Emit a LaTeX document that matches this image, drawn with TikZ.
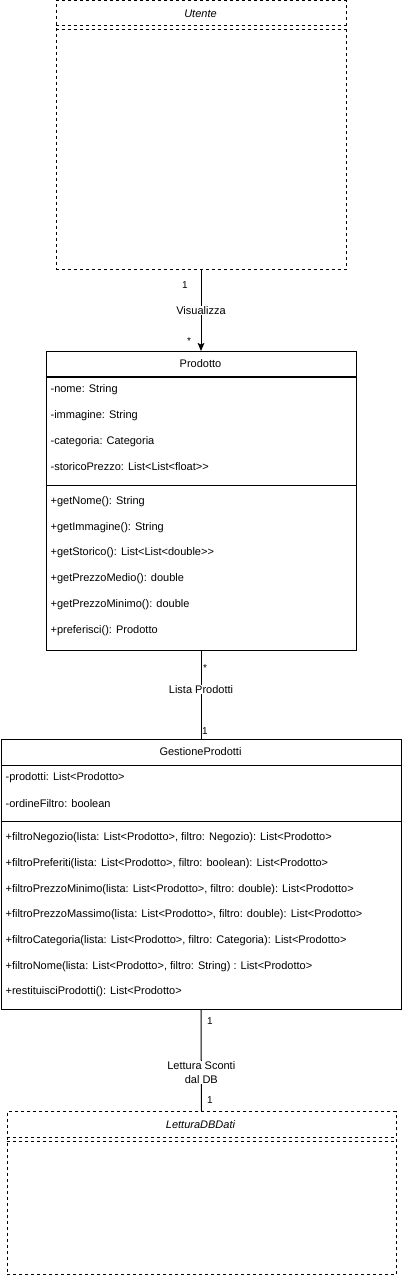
\documentclass[tikz,border=0pt]{standalone}
\usepackage{fontspec}
\setmainfont{Liberation Sans}[Ligatures=ResetAll]
\usetikzlibrary{arrows.meta}
\begin{document}
\begin{tikzpicture}[x=0.75pt,y=-0.75pt,
  every node/.style={font=\fontsize{8.25pt}{10pt}\selectfont, inner sep=1pt},
  classbox/.style={draw, line width=0.75pt, minimum width=#1, anchor=north west, inner sep=0pt, fill=none},
  dashbox/.style={draw, line width=0.75pt, dash pattern=on 2.25pt off 2.25pt, anchor=north west, inner sep=0pt},
  sepline/.style={line width=0.75pt},
  dsepline/.style={line width=0.75pt, dash pattern=on 2.25pt off 2.25pt},
  row/.style={anchor=west},
  hdr/.style={anchor=center},
  endlbl/.style={font=\fontsize{7.5pt}{9pt}\selectfont, anchor=center},
  edgelbl/.style={fill=white, anchor=center, align=center, inner sep=0.5pt},
  conn/.style={line width=0.75pt}
]
\useasboundingbox (0,0) rectangle (402,1276);

% ---------- Utente ----------
\node[dashbox, minimum width=217.5pt, minimum height=201.75pt] (utente) at (55.5,0.5) {};
\node[hdr, font=\fontsize{8.25pt}{10pt}\selectfont\itshape] (utenteT) at (200.5,14) {Utente};
\draw[dsepline] (55.5,26) -- (345.5,26);
\draw[dsepline] (55.5,30) -- (345.5,30);

% ---------- Prodotto ----------
\node[classbox=232.5pt, minimum height=224.25pt] (prodotto) at (45.5,351) {};
\node[hdr] (prodottoT) at (200.5,364) {Prodotto};
\draw[sepline] (45.5,377) -- (355.5,377);
\node[row] (p1) at (49,390) {-nome: String};
\node[row] (p2) at (49,416) {-immagine: String};
\node[row] (p3) at (49,442) {-categoria: Categoria};
\node[row] (p4) at (49,467) {-storicoPrezzo: List<List<float>{}>};
\draw[sepline] (45.5,485) -- (355.5,485);
\node[row] (p5) at (49,502) {+getNome(): String};
\node[row] (p6) at (49,528) {+getImmagine(): String};
\node[row] (p7) at (49,553) {+getStorico(): List<List<double>{}>};
\node[row] (p8) at (49,579) {+getPrezzoMedio(): double};
\node[row] (p9) at (49,605) {+getPrezzoMinimo(): double};
\node[row] (p10) at (49,631) {+preferisci(): Prodotto};

% ---------- GestioneProdotti ----------
\node[classbox=300pt, minimum height=202.5pt] (gestione) at (0.5,739) {};
\node[hdr] (gestioneT) at (200.5,752) {GestioneProdotti};
\draw[sepline] (0.5,765) -- (400.5,765);
\node[row] (g1) at (4,778) {-prodotti: List<Prodotto>};
\node[row] (g2) at (4,804) {-ordineFiltro: boolean};
\draw[sepline] (0.5,821) -- (400.5,821);
\node[row] (g3) at (4,838) {+filtroNegozio(lista: List<Prodotto>, filtro: Negozio): List<Prodotto>};
\node[row] (g4) at (4,864) {+filtroPreferiti(lista: List<Prodotto>, filtro: boolean): List<Prodotto>};
\node[row] (g5) at (4,890) {+filtroPrezzoMinimo(lista: List<Prodotto>, filtro: double): List<Prodotto>};
\node[row] (g6) at (4,915) {+filtroPrezzoMassimo(lista: List<Prodotto>, filtro: double): List<Prodotto>};
\node[row] (g7) at (4,941) {+filtroCategoria(lista: List<Prodotto>, filtro: Categoria): List<Prodotto>};
\node[row] (g8) at (4,967) {+filtroNome(lista: List<Prodotto>, filtro: String) : List<Prodotto>};
\node[row] (g9) at (4,992) {+restituisciProdotti(): List<Prodotto>};

% ---------- LetturaDBDati ----------
\node[dashbox, minimum width=291.75pt, minimum height=122.25pt] (lettura) at (6.5,1111) {};
\node[hdr, font=\fontsize{8.25pt}{10pt}\selectfont\itshape] (letturaT) at (200.5,1125) {LetturaDBDati};
\draw[dsepline] (6.5,1137) -- (395.5,1137);
\draw[dsepline] (6.5,1141) -- (395.5,1141);

% ---------- Connectors ----------
\draw[conn, -{Stealth[length=6pt,width=5pt,inset=1.2pt]}] (utente.south) -- (prodotto.north)
  node[edgelbl, pos=0.5] (visL) {Visualizza};
\node[endlbl] (m1) at (185,285) {1};
\node[endlbl] (m2) at (189,341) {*};

\draw[conn] (prodotto.south) -- (gestione.north)
  node[edgelbl, pos=0.44] (listaL) {Lista Prodotti};
\node[endlbl] (m3) at (205,668) {*};
\node[endlbl] (m4) at (205,731) {1};

\draw[conn] (gestione.south) -- (lettura.north)
  node[edgelbl, pos=0.62] (lettL) {Lettura Sconti\\dal DB};
\node[endlbl] (m5) at (210,1021) {1};
\node[endlbl] (m6) at (210,1100) {1};

\end{tikzpicture}
\end{document}
